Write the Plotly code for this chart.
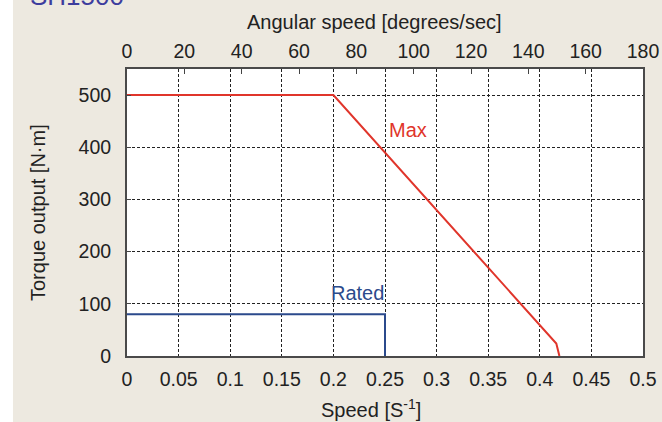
import plotly.graph_objects as go

# Data
max_speed = [0, 0.2, 0.416, 0.419]
max_torque = [500, 500, 24, 0]
rated_speed = [0, 0.25, 0.25]
rated_torque = [80, 80, 0]

x_ticks = [0, 0.05, 0.1, 0.15, 0.2, 0.25, 0.3, 0.35, 0.4, 0.45, 0.5]
x_ticklabels = ["0", "0.05", "0.1", "0.15", "0.2", "0.25", "0.3", "0.35", "0.4", "0.45", "0.5"]
deg_ticks = [0, 20, 40, 60, 80, 100, 120, 140, 160, 180]
y_ticks = [0, 100, 200, 300, 400, 500]

RED = "#E0352B"
BLUE = "#2B4A8C"
BG = "#EDE9E0"
FONT = "Liberation Sans, Arial, sans-serif"
TXT = "#222222"
TICK_SIZE = 19.5
TITLE_SIZE = 20

fig = go.Figure()
fig.add_trace(go.Scatter(x=rated_speed, y=rated_torque, mode="lines",
                         line=dict(color=BLUE, width=2), showlegend=False, hoverinfo="skip"))
fig.add_trace(go.Scatter(x=max_speed, y=max_torque, mode="lines",
                         line=dict(color=RED, width=2), showlegend=False, hoverinfo="skip"))
fig.add_trace(go.Scatter(x=[deg_ticks[0], deg_ticks[-1]], y=[None, None], xaxis="x2",
                         mode="lines", showlegend=False, hoverinfo="skip"))

fig.update_layout(
    width=662, height=422,
    margin=dict(l=127, r=19, t=69, b=66),
    paper_bgcolor=BG, plot_bgcolor="white",
    font=dict(family=FONT, size=18, color=TXT),
    xaxis=dict(range=[0, 0.5], tickvals=x_ticks, ticktext=x_ticklabels, automargin=False,
               showgrid=True, gridcolor="#222", gridwidth=1, griddash="3px,2px",
               zeroline=False, showline=True, linecolor="#4a4a4a", linewidth=2, mirror=True,
               ticks="", tickfont=dict(size=TICK_SIZE, color=TXT), ticklabelstandoff=5),
    xaxis2=dict(range=[0, 180], tickvals=deg_ticks, overlaying="x", side="top", automargin=False,
                showgrid=False, zeroline=False, ticks="inside", ticklen=5, tickcolor="#444",
                tickwidth=1, tickfont=dict(size=TICK_SIZE, color=TXT), showline=False,
                ticklabelstandoff=6),
    yaxis=dict(range=[0, 550], tickvals=y_ticks, automargin=False,
               showgrid=True, gridcolor="#222", gridwidth=1, griddash="3px,2px",
               zeroline=False, showline=True, linecolor="#4a4a4a", linewidth=2, mirror=True,
               ticks="inside", ticklen=4, tickcolor="#444",
               tickfont=dict(size=TICK_SIZE, color=TXT), ticklabelstandoff=10),
    shapes=[dict(type="rect", xref="paper", yref="paper", x0=-0.3, x1=-0.221,
                 y0=-0.3, y1=1.3, fillcolor="white", line=dict(width=0), layer="below")],
    annotations=[
        dict(text="Max", x=0.272, y=433, xref="x", yref="y", showarrow=False,
             font=dict(size=20, color=RED)),
        dict(text="Rated", x=0.223, y=120, xref="x", yref="y", showarrow=False,
             font=dict(size=20, color=BLUE)),
        dict(text="Angular speed [degrees/sec]", x=374, y=22, showarrow=False,
             xanchor="center", yanchor="middle",
             font=dict(size=TITLE_SIZE, color=TXT)),
        dict(text="Speed [S<sup>-1</sup>]", x=371, y=408, showarrow=False,
             xanchor="center", yanchor="middle",
             font=dict(size=TITLE_SIZE, color=TXT)),
        dict(text="Torque output [N·m]", x=38, y=213, textangle=-90, showarrow=False,
             xanchor="center", yanchor="middle",
             font=dict(size=TITLE_SIZE, color=TXT)),
        dict(text="SH1500", x=28, y=-4, showarrow=False, xanchor="left", yanchor="middle",
             font=dict(size=26, color="#3D3D9E")),
    ],
)

# convert pixel-positioned annotations to paper coords
pl, pr, pt, pb = 127, 643, 69, 356
def px_to_paper(px, py):
    return (px - pl) / (pr - pl), (pb - py) / (pb - pt)

for ann in fig.layout.annotations[2:]:
    nx, ny = px_to_paper(ann.x, ann.y)
    ann.x, ann.y = nx, ny
    ann.xref, ann.yref = "paper", "paper"

fig.write_html("out.html")
